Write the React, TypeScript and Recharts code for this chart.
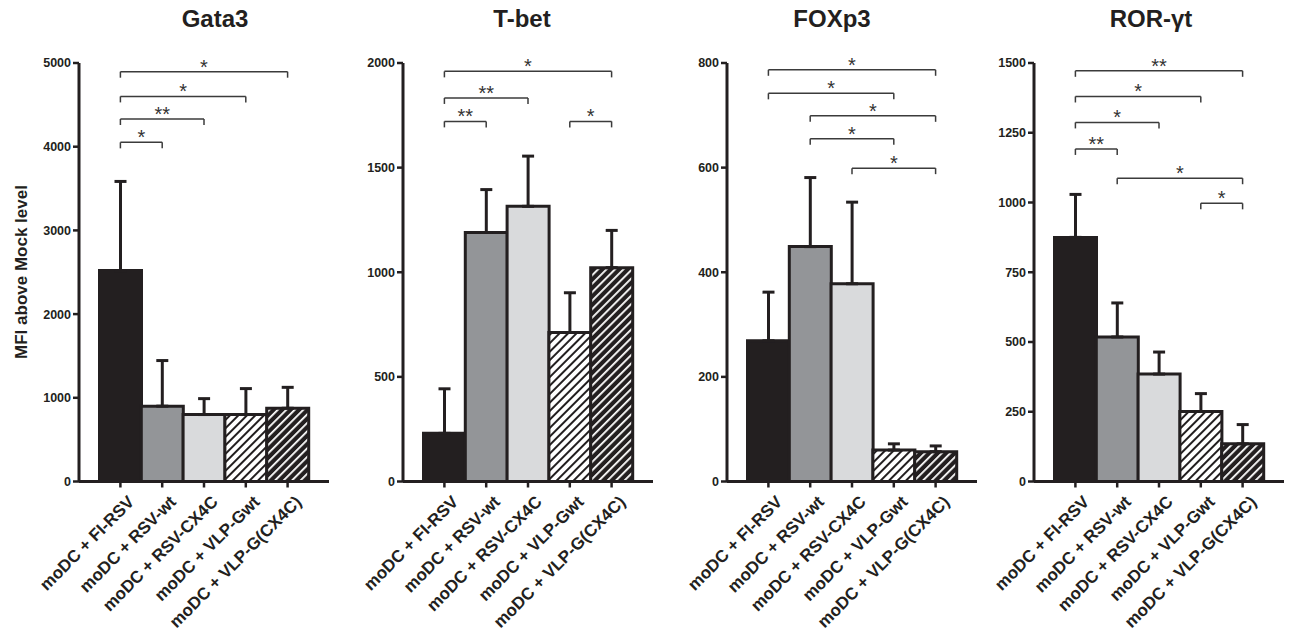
import { Bar, BarChart, Cell, ErrorBar, ReferenceLine, XAxis, YAxis } from "recharts";

const FONT = '"Liberation Sans", Arial, sans-serif';
const INK = "#231f20";

const groups = [
  "moDC + FI-RSV",
  "moDC + RSV-wt",
  "moDC + RSV-CX4C",
  "moDC + VLP-Gwt",
  "moDC + VLP-G(CX4C)",
];

const gata3Means = [2520, 900, 800, 800, 875];
const gata3Errors = [1065, 545, 190, 310, 250];
const gata3Ticks = [0, 1000, 2000, 3000, 4000, 5000];

const tbetMeans = [230, 1190, 1315, 712, 1022];
const tbetErrors = [213, 205, 240, 190, 178];
const tbetTicks = [0, 500, 1000, 1500, 2000];

const foxp3Means = [269, 449, 378, 60, 57];
const foxp3Errors = [93, 132, 156, 12, 11];
const foxp3Ticks = [0, 200, 400, 600, 800];

const rorMeans = [875, 518, 385, 251, 135];
const rorErrors = [154, 122, 79, 64, 69];
const rorTicks = [0, 250, 500, 750, 1000, 1250, 1500];

// brackets: [from group, to group, height, stars]
type Sig = [number, number, number, string];
const gata3Sig: Sig[] = [
  [0, 4, 4896, "*"],
  [0, 3, 4601, "*"],
  [0, 2, 4331, "**"],
  [0, 1, 4052, "*"],
];
const tbetSig: Sig[] = [
  [0, 4, 1960, "*"],
  [0, 2, 1833, "**"],
  [0, 1, 1721, "**"],
  [3, 4, 1721, "*"],
];
const foxp3Sig: Sig[] = [
  [0, 4, 787, "*"],
  [0, 3, 742, "*"],
  [1, 4, 699, "*"],
  [1, 3, 655, "*"],
  [2, 4, 599, "*"],
];
const rorSig: Sig[] = [
  [0, 4, 1472, "**"],
  [0, 3, 1380, "*"],
  [0, 2, 1287, "*"],
  [0, 1, 1192, "**"],
  [1, 4, 1087, "*"],
  [3, 4, 997, "*"],
];

const GroupTick = (props: any) => {
  const { x, y, payload } = props;
  return (
    <text
      x={x}
      y={y}
      dx={1}
      dy={20}
      transform={`rotate(-45 ${x} ${y})`}
      textAnchor="end"
      fill={INK}
      fontSize={17}
      fontWeight={700}
      fontFamily={FONT}
    >
      {payload.value}
    </text>
  );
};

type PanelProps = {
  id: string;
  title: string;
  means: number[];
  errors: number[];
  ticks: number[];
  sig: Sig[];
  axisX: number;
  titleX: number;
};

const CHART_W = 340;
const CHART_H = 634;
const AXIS_W = 80;
const PLOT_TOP = 63;
const PLOT_H = 418.5;

const Panel = ({ id, title, means, errors, ticks, sig, axisX, titleX }: PanelProps) => {
  const data = groups.map((name, i) => ({ name, mean: means[i], err: [0, errors[i]] }));
  const max = ticks[ticks.length - 1];
  const drop = (6 / PLOT_H) * max;
  const fills = [INK, "#939598", "#d9dadc", `url(#light-${id})`, `url(#dark-${id})`];

  return (
    <>
      <div
        style={{
          position: "absolute",
          left: titleX - 100,
          top: 5,
          width: 200,
          textAlign: "center",
          fontFamily: FONT,
          fontWeight: 700,
          fontSize: 24,
          color: INK,
        }}
      >
        {title}
      </div>
      <div style={{ position: "absolute", left: axisX - AXIS_W, top: 0 }}>
        <BarChart
          width={CHART_W}
          height={CHART_H}
          data={data}
          barCategoryGap={0}
          margin={{ top: PLOT_TOP, right: CHART_W - AXIS_W - 250, bottom: 0, left: 0 }}
        >
          <defs>
            <pattern id={`light-${id}`} patternUnits="userSpaceOnUse" width="6" height="6" patternTransform="rotate(45)">
              <rect width="6" height="6" fill="#fff" />
              <rect width="2" height="6" fill={INK} />
            </pattern>
            <pattern id={`dark-${id}`} patternUnits="userSpaceOnUse" width="6" height="6" patternTransform="rotate(45)">
              <rect width="6" height="6" fill={INK} />
              <rect width="1.8" height="6" fill="#fff" />
            </pattern>
          </defs>
          <XAxis
            dataKey="name"
            type="category"
            interval={0}
            padding={{ left: 20.5, right: 20.5 }}
            height={CHART_H - PLOT_TOP - PLOT_H}
            axisLine={{ stroke: INK, strokeWidth: 3 }}
            tickLine={{ stroke: INK, strokeWidth: 2.5 }}
            tickSize={6}
            tick={<GroupTick />}
          />
          <YAxis
            type="number"
            domain={[0, max]}
            ticks={ticks}
            interval={0}
            width={AXIS_W}
            axisLine={{ stroke: INK, strokeWidth: 3 }}
            tickLine={{ stroke: INK, strokeWidth: 2.5 }}
            tickSize={6}
            tick={{ fill: INK, fontSize: 12.5, fontWeight: 700, fontFamily: FONT }}
          />
          <Bar dataKey="mean" stroke={INK} strokeWidth={3} isAnimationActive={false}>
            {data.map((d, i) => (
              <Cell key={d.name} fill={fills[i]} />
            ))}
            <ErrorBar dataKey="err" direction="y" width={6} stroke={INK} strokeWidth={3} />
          </Bar>
          {sig.map(([a, b, h, stars], i) => [
            <ReferenceLine
              key={`h${i}`}
              segment={[{ x: groups[a], y: h }, { x: groups[b], y: h }]}
              stroke="#3b3b3b"
              strokeWidth={1.5}
              label={{ value: stars, position: "top", offset: -2, fill: "#333", fontSize: 20, fontFamily: FONT }}
            />,
            <ReferenceLine
              key={`l${i}`}
              segment={[{ x: groups[a], y: h }, { x: groups[a], y: h - drop }]}
              stroke="#3b3b3b"
              strokeWidth={1.5}
            />,
            <ReferenceLine
              key={`r${i}`}
              segment={[{ x: groups[b], y: h }, { x: groups[b], y: h - drop }]}
              stroke="#3b3b3b"
              strokeWidth={1.5}
            />,
          ])}
        </BarChart>
      </div>
    </>
  );
};

export default function App() {
  return (
    <div
      style={{
        position: "fixed",
        left: 0,
        top: 0,
        width: 1291,
        height: 634,
        background: "#fff",
        overflow: "hidden",
      }}
    >
      <div
        style={{
          position: "absolute",
          left: 22,
          top: 272,
          transform: "translate(-50%, -50%) rotate(-90deg)",
          whiteSpace: "nowrap",
          fontFamily: FONT,
          fontWeight: 700,
          fontSize: 17,
          color: INK,
        }}
      >
        MFI above Mock level
      </div>
      <Panel id="gata3" title="Gata3" means={gata3Means} errors={gata3Errors} ticks={gata3Ticks} sig={gata3Sig} axisX={79} titleX={215} />
      <Panel id="tbet" title="T-bet" means={tbetMeans} errors={tbetErrors} ticks={tbetTicks} sig={tbetSig} axisX={403} titleX={522} />
      <Panel id="foxp3" title="FOXp3" means={foxp3Means} errors={foxp3Errors} ticks={foxp3Ticks} sig={foxp3Sig} axisX={727} titleX={832} />
      <Panel id="ror" title="ROR-γt" means={rorMeans} errors={rorErrors} ticks={rorTicks} sig={rorSig} axisX={1034} titleX={1151} />
    </div>
  );
}
